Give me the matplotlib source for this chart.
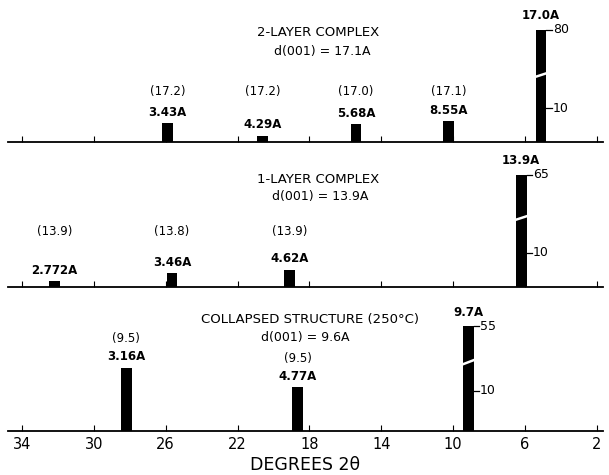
import numpy as np
import matplotlib.pyplot as plt

plt.rcParams['font.family'] = 'DejaVu Sans'

# ---- data (2-theta in degrees, relative intensity) ----
titles = ['2-LAYER COMPLEX', '1-LAYER COMPLEX', 'COLLAPSED STRUCTURE (250°C)']
subtitles = ['d(001) = 17.1A', 'd(001) = 13.9A', 'd(001) = 9.6A']

two_theta_2l = [25.9, 20.6, 15.4, 10.25, 5.1]
intens_2l = [5.5, 1.9, 5.2, 6.1, 80]
d_2l = ['3.43A', '4.29A', '5.68A', '8.55A', '17.0A']
calc_2l = ['(17.2)', '(17.2)', '(17.0)', '(17.1)', '']

two_theta_1l = [32.2, 25.65, 19.1, 6.2]
intens_1l = [1.7, 4.0, 5.0, 65]
d_1l = ['2.772A', '3.46A', '4.62A', '13.9A']
calc_1l = ['(13.9)', '(13.8)', '(13.9)', '']

two_theta_col = [28.2, 18.65, 9.15]
intens_col = [15.8, 10.9, 55]
d_col = ['3.16A', '4.77A', '9.7A']
calc_col = ['(9.5)', '(9.5)', '']

deg_ticks = [34, 30, 26, 22, 18, 14, 10, 6, 2]
mid_tick = 10   # intensity marked on the big peak

W, H = 609, 475

# layout of each strip in pixels: baseline, top of axes, px per unit, break level
panels = [
    dict(tt=two_theta_2l, I=intens_2l, d=d_2l, calc=calc_2l,
         base=142, top=0, s=3.4, brk=19.7, peak=33.0, calc_row=92,
         title_y=33, sub_y=52, title_x=318, sub_x=322),
    dict(tt=two_theta_1l, I=intens_1l, d=d_1l, calc=calc_1l,
         base=287, top=150, s=3.4, brk=20.3, peak=33.0, calc_row=232,
         title_y=180, sub_y=197, title_x=318, sub_x=320),
    dict(tt=two_theta_col, I=intens_col, d=d_col, calc=calc_col,
         base=431, top=300, s=4.0, brk=17.2, peak=26.2, calc_row=None,
         title_y=319, sub_y=337, title_x=310, sub_x=305),
]


def broken(brk, k):
    def fwd(y):
        y = np.asarray(y, dtype=float)
        return np.where(y <= brk, y, brk + (y - brk) * k)

    def inv(y):
        y = np.asarray(y, dtype=float)
        return np.where(y <= brk, y, brk + (y - brk) / k)
    return fwd, inv


fig = plt.figure(figsize=(W / 100, H / 100), dpi=100)
x0, x1 = 8, 603
xlim = (34 + (x0 - 22) / -17.96, 34 - (x1 - 22) / 17.96)
bw = 0.6

for i, p in enumerate(panels):
    ax = fig.add_axes([x0 / W, 1 - p['base'] / H, (x1 - x0) / W, (p['base'] - p['top']) / H])
    vmax = max(p['I'])
    k = (p['peak'] - p['brk']) / (vmax - p['brk'])
    fwd, inv = broken(p['brk'], k)
    ax.set_yscale('function', functions=(fwd, inv))
    top_disp = (p['base'] - p['top']) / p['s']
    ax.set_ylim(0, float(inv(top_disp)))
    ax.set_xlim(*xlim)

    for side in ['top', 'left', 'right']:
        ax.spines[side].set_visible(False)
    ax.spines['bottom'].set_linewidth(1.3)
    ax.set_yticks([])
    ax.set_xticks(deg_ticks)
    ax.tick_params(axis='x', direction='in', length=4, width=0.8, pad=4, labelsize=10.5)
    if i < 2:
        ax.tick_params(axis='x', labelbottom=False)
    else:
        ax.set_xlabel('DEGREES 2θ', fontsize=12.5, labelpad=3)

    ax.bar(p['tt'], p['I'], width=bw, color='black', zorder=3)

    # axis-fraction helper for text rows given in pixels
    def yf(px):
        return (p['base'] - px) / (p['base'] - p['top'])

    ax.text((p['title_x'] - x0) / (x1 - x0), yf(p['title_y']), titles[i],
            transform=ax.transAxes, ha='center', va='center', fontsize=9.5)
    ax.text((p['sub_x'] - x0) / (x1 - x0), yf(p['sub_y']), subtitles[i],
            transform=ax.transAxes, ha='center', va='center', fontsize=9)

    for t, v, d, c in zip(p['tt'], p['I'], p['d'], p['calc']):
        off = 10 if v == vmax else 8
        ax.annotate(d, (t, v), xytext=(0, off), textcoords='offset points',
                    ha='center', va='center', fontsize=8.5, fontweight='bold')
        if c:
            if p['calc_row'] is None:
                ax.annotate(c, (t, v), xytext=(0, off + 13), textcoords='offset points',
                            ha='center', va='center', fontsize=8.5)
            else:
                ax.text(t, yf(p['calc_row']), c, ha='center', va='center', fontsize=8.5,
                        transform=ax.get_xaxis_transform())

    # big peak: break mark and intensity marks
    tb = p['tt'][int(np.argmax(p['I']))]
    ax.plot([tb + bw / 2 + 0.05, tb - bw / 2 - 0.05],
            [p['brk'] - 0.6, float(inv(p['brk'] + 0.6))],
            color='white', lw=1.8, zorder=4, solid_capstyle='butt')
    for lev in [mid_tick, vmax]:
        ax.plot([tb - bw / 2, tb - bw / 2 - 0.3], [lev, lev], color='black', lw=0.9, zorder=3)
        ax.text(tb - bw / 2 - 0.35, lev, str(lev), ha='left', va='center', fontsize=9)

fig.savefig('out.png', dpi=100, facecolor='white')
